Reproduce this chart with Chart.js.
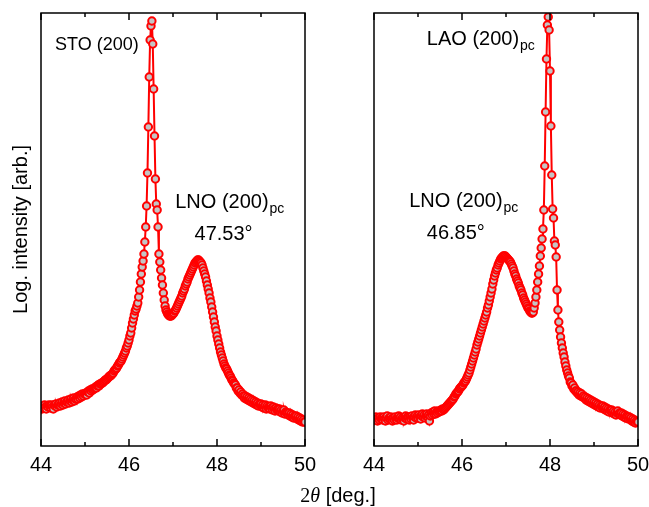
<!DOCTYPE html>
<html>
<head>
<meta charset="utf-8">
<script src="https://cdn.jsdelivr.net/npm/chart.js@4.4.1/dist/chart.umd.min.js"></script>
<style>
  body { margin: 0; background: #fff; }
  #wrap { position: relative; width: 649px; height: 507px; overflow: hidden; }
  canvas { position: absolute; top: 0; }
  #xtitle {
    position: absolute; left: 238px; top: 483px; width: 200px; text-align: center;
    font: 20px "Liberation Sans", Arial, sans-serif; color: #000; line-height: 24px;
  }
  #xtitle .serif { font-family: "Liberation Serif", "Times New Roman", serif; }
</style>
</head>
<body>
<div id="wrap">
  <canvas id="chartSTO" width="325" height="507" style="left:0"></canvas>
  <canvas id="chartLAO" width="325" height="507" style="left:333px"></canvas>
  <div id="xtitle"><span class="serif">2<i>θ</i></span> [deg.]</div>
</div>
<script>
// 2theta scan: 44.00 .. 50.00 deg, step 0.02
var angleStart = 44;
var angleStep = 0.02;

var xMin = 44, xMax = 50;
var xLabelStep = 2;
var majorTicks = [44, 46, 48, 50];
var minorTicks = [45, 47, 49];
var yMin = 1.0, yMax = 5.33;   // log10 intensity, arb.

// LNO on STO  (log10 intensity)
var logI_STO = [
  1.39, 1.37, 1.40, 1.38, 1.41, 1.39, 1.37, 1.40, 1.39, 1.41,
  1.40, 1.38, 1.41, 1.39, 1.37, 1.41, 1.40, 1.42, 1.39, 1.41,
  1.41, 1.43, 1.40, 1.42, 1.44, 1.41, 1.43, 1.45, 1.42, 1.44,
  1.44, 1.46, 1.43, 1.45, 1.47, 1.44, 1.46, 1.48, 1.45, 1.47,
  1.47, 1.49, 1.47, 1.50, 1.48, 1.51, 1.49, 1.52, 1.50, 1.52,
  1.52, 1.53, 1.51, 1.54, 1.55, 1.53, 1.56, 1.55, 1.57, 1.56,
  1.57, 1.58, 1.59, 1.58, 1.60, 1.61, 1.60, 1.62, 1.62, 1.63,
  1.63, 1.64, 1.65, 1.66, 1.66, 1.67, 1.68, 1.69, 1.70, 1.70,
  1.71, 1.72, 1.73, 1.75, 1.76, 1.77, 1.78, 1.80, 1.81, 1.83,
  1.84, 1.85, 1.87, 1.89, 1.91, 1.93, 1.95, 1.98, 2.00, 2.03,
  2.06, 2.10, 2.13, 2.18, 2.23, 2.27, 2.31, 2.35, 2.37, 2.40,
  2.43, 2.49, 2.56, 2.64, 2.72, 2.79, 2.85, 2.92, 3.04, 3.19,
  3.40, 3.73, 4.19, 4.69, 5.06, 5.20, 5.25, 5.02, 4.57, 4.10,
  3.67, 3.42, 3.36, 3.19, 2.92, 2.84, 2.76, 2.68, 2.61, 2.53,
  2.46, 2.40, 2.36, 2.34, 2.32, 2.31, 2.30, 2.30, 2.30, 2.31,
  2.32, 2.33, 2.35, 2.36, 2.38, 2.40, 2.42, 2.44, 2.46, 2.48,
  2.50, 2.53, 2.55, 2.57, 2.60, 2.62, 2.64, 2.67, 2.69, 2.71,
  2.73, 2.75, 2.77, 2.79, 2.81, 2.83, 2.84, 2.85, 2.86, 2.86,
  2.85, 2.84, 2.83, 2.81, 2.78, 2.75, 2.72, 2.69, 2.65, 2.61,
  2.57, 2.53, 2.48, 2.44, 2.39, 2.34, 2.29, 2.24, 2.19, 2.15,
  2.10, 2.06, 2.02, 1.98, 1.94, 1.91, 1.88, 1.85, 1.82, 1.80,
  1.78, 1.77, 1.75, 1.73, 1.71, 1.70, 1.68, 1.66, 1.65, 1.63,
  1.62, 1.61, 1.58, 1.58, 1.55, 1.56, 1.53, 1.54, 1.51, 1.52,
  1.50, 1.48, 1.50, 1.47, 1.49, 1.46, 1.48, 1.45, 1.47, 1.44,
  1.46, 1.43, 1.45, 1.42, 1.44, 1.41, 1.43, 1.40, 1.42, 1.41,
  1.42, 1.39, 1.41, 1.38, 1.40, 1.41, 1.37, 1.40, 1.38, 1.39,
  1.37, 1.40, 1.38, 1.36, 1.39, 1.37, 1.35, 1.38, 1.36, 1.37,
  1.35, 1.37, 1.34, 1.36, 1.33, 1.35, 1.36, 1.32, 1.34, 1.33,
  1.33, 1.31, 1.33, 1.30, 1.32, 1.29, 1.31, 1.28, 1.30, 1.29,
  1.30, 1.27, 1.29, 1.26, 1.28, 1.25, 1.27, 1.24, 1.26, 1.24,
  1.24
];

// LNO on LAO  (log10 intensity)
var logI_LAO = [
  1.28, 1.26, 1.29, 1.27, 1.25, 1.28, 1.26, 1.29, 1.27, 1.28,
  1.26, 1.29, 1.27, 1.25, 1.28, 1.30, 1.26, 1.28, 1.27, 1.29,
  1.27, 1.25, 1.28, 1.26, 1.29, 1.27, 1.26, 1.28, 1.30, 1.27,
  1.29, 1.26, 1.28, 1.27, 1.25, 1.28, 1.30, 1.27, 1.29, 1.28,
  1.26, 1.29, 1.27, 1.30, 1.28, 1.26, 1.29, 1.31, 1.28, 1.30,
  1.28, 1.31, 1.29, 1.27, 1.30, 1.32, 1.29, 1.31, 1.28, 1.30,
  1.32, 1.29, 1.31, 1.25, 1.30, 1.33, 1.31, 1.34, 1.32, 1.35,
  1.32, 1.34, 1.33, 1.35, 1.34, 1.35, 1.36, 1.35, 1.37, 1.36,
  1.37, 1.38, 1.39, 1.40, 1.41, 1.42, 1.43, 1.44, 1.45, 1.46,
  1.47, 1.49, 1.50, 1.52, 1.53, 1.54, 1.55, 1.57, 1.58, 1.59,
  1.60, 1.61, 1.63, 1.64, 1.65, 1.67, 1.69, 1.71, 1.73, 1.76,
  1.79, 1.82, 1.85, 1.88, 1.91, 1.94, 1.97, 2.01, 2.04, 2.07,
  2.10, 2.13, 2.16, 2.19, 2.22, 2.25, 2.28, 2.31, 2.34, 2.38,
  2.41, 2.45, 2.49, 2.53, 2.57, 2.62, 2.66, 2.70, 2.73, 2.76,
  2.78, 2.81, 2.83, 2.85, 2.87, 2.88, 2.89, 2.90, 2.90, 2.90,
  2.89, 2.88, 2.87, 2.86, 2.85, 2.84, 2.82, 2.80, 2.78, 2.75,
  2.72, 2.70, 2.67, 2.65, 2.63, 2.60, 2.58, 2.56, 2.53, 2.51,
  2.48, 2.46, 2.44, 2.42, 2.40, 2.38, 2.37, 2.35, 2.34, 2.33,
  2.33, 2.34, 2.38, 2.43, 2.49, 2.56, 2.64, 2.72, 2.80, 2.90,
  2.98, 3.07, 3.17, 3.36, 3.80, 4.34, 4.87, 5.21, 5.29, 5.16,
  4.75, 4.20, 3.71, 3.37, 3.28, 3.05, 3.01, 2.89, 2.56, 2.36,
  2.24, 2.16, 2.09, 2.03, 1.98, 1.93, 1.89, 1.84, 1.80, 1.76,
  1.73, 1.70, 1.68, 1.64, 1.63, 1.60, 1.61, 1.57, 1.58, 1.55,
  1.55, 1.53, 1.54, 1.51, 1.53, 1.50, 1.52, 1.49, 1.50, 1.48,
  1.49, 1.46, 1.48, 1.45, 1.47, 1.44, 1.46, 1.43, 1.45, 1.42,
  1.44, 1.41, 1.43, 1.40, 1.42, 1.39, 1.41, 1.38, 1.40, 1.39,
  1.40, 1.37, 1.39, 1.36, 1.38, 1.35, 1.37, 1.34, 1.36, 1.35,
  1.36, 1.33, 1.35, 1.32, 1.34, 1.31, 1.33, 1.35, 1.32, 1.33,
  1.31, 1.33, 1.30, 1.32, 1.29, 1.31, 1.28, 1.30, 1.29, 1.27,
  1.29, 1.27, 1.28, 1.25, 1.27, 1.24, 1.26, 1.23, 1.25, 1.24,
  1.24
];

// peak labels, placed in data coordinates (deg, log I)
var notesSTO = [
  { text: 'STO (200)', sub: '', x: 44.32, y: 4.96, size: 18 },
  { text: 'LNO (200)', sub: 'pc', x: 47.05, y: 3.38, size: 20 },
  { text: '47.53°', sub: '', x: 47.49, y: 3.06, size: 20 }
];
var notesLAO = [
  { text: 'LAO (200)', sub: 'pc', x: 45.20, y: 5.01, size: 20 },
  { text: 'LNO (200)', sub: 'pc', x: 44.80, y: 3.39, size: 20 },
  { text: '46.85°', sub: '', x: 45.20, y: 3.07, size: 20 }
];

var FONT = '"Liberation Sans", Arial, Helvetica, sans-serif';
var RED = '#ff0000';

function toPoints(values) {
    return values.map(function(v, i) {
        return { x: +(angleStart + i * angleStep).toFixed(2), y: v };
    });
}

// box + inward ticks top and bottom
var frameTicks = {
    id: 'frameTicks',
    afterDatasetsDraw: function(chart) {
        var ctx = chart.ctx, a = chart.chartArea, xs = chart.scales.x;
        ctx.save();
        ctx.strokeStyle = '#000';
        ctx.lineWidth = 1.5;
        ctx.strokeRect(a.left, a.top, a.right - a.left, a.bottom - a.top);
        function tick(v, len) {
            var px = xs.getPixelForValue(v);
            ctx.beginPath();
            ctx.moveTo(px, a.bottom);
            ctx.lineTo(px, a.bottom - len);
            ctx.moveTo(px, a.top);
            ctx.lineTo(px, a.top + len);
            ctx.stroke();
        }
        majorTicks.forEach(function(v) { tick(v, 7); });
        minorTicks.forEach(function(v) { tick(v, 4); });
        ctx.restore();
    }
};

var peakNotes = {
    id: 'peakNotes',
    afterDatasetsDraw: function(chart, args, opts) {
        var ctx = chart.ctx, xs = chart.scales.x, ys = chart.scales.y;
        ctx.save();
        ctx.fillStyle = '#000';
        ctx.textBaseline = 'alphabetic';
        ctx.textAlign = 'left';
        (opts.items || []).forEach(function(n) {
            var px = xs.getPixelForValue(n.x), py = ys.getPixelForValue(n.y);
            ctx.font = n.size + 'px ' + FONT;
            ctx.fillText(n.text, px, py);
            if (n.sub) {
                var w = ctx.measureText(n.text).width;
                ctx.font = Math.round(n.size * 0.7) + 'px ' + FONT;
                ctx.fillText(n.sub, px + w + 1, py + 5);
            }
        });
        ctx.restore();
    }
};

function makePanel(canvasId, values, notes, showYTitle, padRight) {
    return new Chart(document.getElementById(canvasId), {
        type: 'line',
        data: {
            datasets: [{
                data: toPoints(values),
                borderColor: RED,
                borderWidth: 2,
                pointRadius: 3.7,
                pointBorderWidth: 2,
                pointBorderColor: RED,
                pointBackgroundColor: '#c4c4c4',
                tension: 0,
                fill: false
            }]
        },
        options: {
            responsive: false,
            animation: false,
            devicePixelRatio: 1,
            layout: { padding: { top: 13, right: padRight, bottom: 0, left: 0 } },
            plugins: {
                legend: { display: false },
                tooltip: { enabled: false },
                peakNotes: { items: notes }
            },
            scales: {
                x: {
                    type: 'linear',
                    min: xMin,
                    max: xMax,
                    grid: { display: false, drawTicks: false },
                    border: { display: false },
                    ticks: {
                        stepSize: xLabelStep,
                        autoSkip: false,
                        maxRotation: 0,
                        padding: 7,
                        color: '#000',
                        font: { family: FONT, size: 20 }
                    },
                    afterFit: function(s) { s.height = 61; }
                },
                y: {
                    type: 'linear',
                    min: yMin,
                    max: yMax,
                    grid: { display: false, drawTicks: false },
                    border: { display: false },
                    ticks: { display: false },
                    title: {
                        display: showYTitle,
                        text: 'Log. intensity [arb.]',
                        color: '#000',
                        font: { family: FONT, size: 20 },
                        padding: { top: 9, bottom: 0 }
                    },
                    afterFit: function(s) { s.width = 41; }
                }
            }
        },
        plugins: [frameTicks, peakNotes]
    });
}

makePanel('chartSTO', logI_STO, notesSTO, true, 20);
makePanel('chartLAO', logI_LAO, notesLAO, false, 20);
</script>
</body>
</html>
